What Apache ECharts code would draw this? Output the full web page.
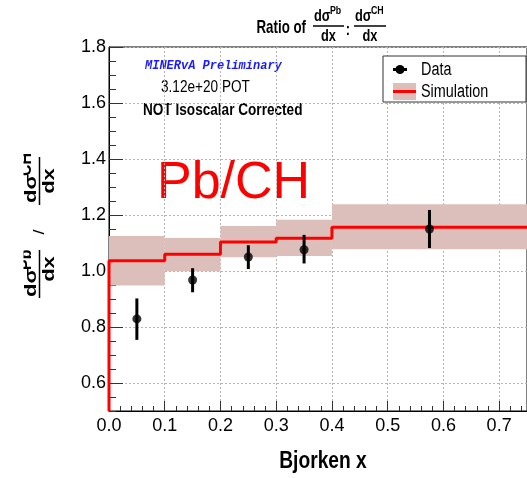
<!DOCTYPE html>
<html><head><meta charset="utf-8">
<script src="https://cdn.jsdelivr.net/npm/echarts@6/dist/echarts.min.js"></script>
<style>html,body{margin:0;padding:0;background:#fff}#c{width:527px;height:478px}</style>
</head><body><div id="c"></div>
<script>
// Bin edges and simulation (Pb/CH ratio) per Bjorken-x bin
const binEdges = [0.0, 0.1, 0.2, 0.3, 0.4, 0.75];
const simValues = [1.037, 1.060, 1.104, 1.117, 1.156];
const simLow    = [0.948, 0.999, 1.049, 1.054, 1.078];
const simHigh   = [1.125, 1.118, 1.161, 1.183, 1.238];
// Data points
const dataX     = [0.05, 0.15, 0.25, 0.35, 0.575];
const dataY     = [0.829, 0.968, 1.050, 1.076, 1.150];
const dataLow   = [0.754, 0.924, 1.007, 1.027, 1.082];
const dataHigh  = [0.902, 1.010, 1.092, 1.129, 1.218];
// Tick labels
const xTicks = [0.0, 0.1, 0.2, 0.3, 0.4, 0.5, 0.6, 0.7];
const yTicks = [0.6, 0.8, 1.0, 1.2, 1.4, 1.6, 1.8];

const SANS = "'Liberation Sans',Arial,Helvetica,sans-serif";
const SQ = 0.8; // horizontal squeeze of the ROOT-style fonts

const bandData = simValues.map((v, i) => [binEdges[i], binEdges[i + 1], simLow[i], simHigh[i]]);
const stepLine = [[binEdges[0], 0.5]];
simValues.forEach((v, i) => { stepLine.push([binEdges[i], v]); stepLine.push([binEdges[i + 1], v]); });
const errData = dataX.map((x, i) => [x, dataLow[i], dataHigh[i]]);
const ptData = dataX.map((x, i) => [x, dataY[i]]);

const chart = echarts.init(document.getElementById('c'), null, {renderer: 'canvas'});

function txt(x, y, s, font, extra, el) {
  return Object.assign({type: 'text', x: x, y: y, scaleX: SQ,
    style: Object.assign({text: s, font: font, fill: '#000', textAlign: 'left', textVerticalAlign: 'middle'}, extra || {})}, el || {});
}
function rtxt(x, y, s, font, extra, sy) { // text inside the rotated y-title group
  return {type: 'text', x: x, y: y, scaleY: sy || 0.78,
    style: Object.assign({text: s, font: font, fill: '#000', textAlign: 'left', textVerticalAlign: 'middle'}, extra || {})};
}

chart.setOption({
  animation: false,
  grid: {left: 109, right: -11, top: 47, bottom: 67, show: true, borderColor: '#000', borderWidth: 1, backgroundColor: 'transparent'},
  xAxis: [{
    type: 'value', min: 0, max: 0.75, interval: 0.1, position: 'bottom',
    axisLine: {show: true, onZero: false, lineStyle: {color: '#000', width: 1}},
    axisTick: {show: true, inside: true, length: 10, customValues: xTicks, lineStyle: {color: '#333'}},
    axisLabel: {customValues: xTicks, formatter: v => v.toFixed(1), fontFamily: SANS, fontSize: 18, color: '#000', margin: 6},
    splitLine: {show: true, lineStyle: {type: [2, 2], color: '#b5b5b5', width: 1}}
  }, {
    type: 'value', min: 0, max: 0.75, interval: 0.02, position: 'bottom',
    axisLine: {show: false}, axisTick: {show: true, inside: true, length: 5, lineStyle: {color: '#333'}},
    axisLabel: {show: false}, splitLine: {show: false}
  }],
  yAxis: [{
    type: 'value', min: 0.5, max: 1.8, interval: 0.1, position: 'left',
    axisLine: {show: true, onZero: false, lineStyle: {color: '#000', width: 1}},
    axisTick: {show: true, inside: true, length: 14, customValues: yTicks, lineStyle: {color: '#333'}},
    axisLabel: {customValues: yTicks, formatter: v => v.toFixed(1), fontFamily: SANS, fontSize: 18, color: '#000', margin: 3},
    splitLine: {show: true, lineStyle: {type: [2, 2], color: '#b5b5b5', width: 1}}
  }, {
    type: 'value', min: 0.5, max: 1.8, interval: 0.05, position: 'left',
    axisLine: {show: false}, axisTick: {show: true, inside: true, length: 7, lineStyle: {color: '#333'}},
    axisLabel: {show: false}, splitLine: {show: false}
  }],
  series: [{
    type: 'custom', xAxisIndex: 0, yAxisIndex: 0, data: bandData, z: 1,
    renderItem: (params, api) => {
      const p0 = api.coord([api.value(0), api.value(3)]);
      const p1 = api.coord([api.value(1), api.value(2)]);
      return {type: 'rect', shape: {x: p0[0], y: p0[1], width: p1[0] - p0[0], height: p1[1] - p0[1]}, style: {fill: '#dcbfba'}};
    }
  }, {
    type: 'line', xAxisIndex: 0, yAxisIndex: 0, data: stepLine, symbol: 'none', z: 3,
    lineStyle: {color: '#ff0000', width: 3}
  }, {
    type: 'custom', xAxisIndex: 0, yAxisIndex: 0, data: errData, z: 4,
    renderItem: (params, api) => {
      const a = api.coord([api.value(0), api.value(1)]);
      const b = api.coord([api.value(0), api.value(2)]);
      return {type: 'line', shape: {x1: a[0], y1: a[1], x2: b[0], y2: b[1]}, style: {stroke: '#000', lineWidth: 3}};
    }
  }, {
    type: 'scatter', xAxisIndex: 0, yAxisIndex: 0, data: ptData, symbol: 'circle', symbolSize: 9, z: 5,
    itemStyle: {color: '#000'}
  }],
  graphic: [
    // title
    txt(306, 28, 'Ratio of', "bold 19px " + SANS, {textAlign: 'right'}, {scaleX: 0.7}),
    txt(314, 17, 'dσ', "bold 16px " + SANS),
    txt(330, 11, 'Pb', "bold 11px " + SANS),
    {type: 'line', shape: {x1: 313, y1: 26, x2: 344, y2: 26}, style: {stroke: '#000', lineWidth: 1.5}},
    txt(328.5, 37, 'dx', "bold 16px " + SANS, {textAlign: 'center'}),
    txt(348, 31, ':', "bold 16px " + SANS, {textAlign: 'center'}),
    txt(355, 17, 'dσ', "bold 16px " + SANS),
    txt(371, 11, 'CH', "bold 11px " + SANS),
    {type: 'line', shape: {x1: 354, y1: 26, x2: 386, y2: 26}, style: {stroke: '#000', lineWidth: 1.5}},
    txt(370, 37, 'dx', "bold 16px " + SANS, {textAlign: 'center'}),
    // y-axis title (rotated)
    {type: 'group', x: 0, y: 300, rotation: Math.PI / 2, children: [
      rtxt(3, 31, 'dσ', "bold 22px " + SANS),
      rtxt(30, 27, 'Pb', "bold 16px " + SANS, null, 1),
      {type: 'line', shape: {x1: 2, y1: 39.5, x2: 50, y2: 39.5}, style: {stroke: '#000', lineWidth: 1.5}},
      rtxt(31, 49, 'dx', "bold 22px " + SANS, {textAlign: 'center'}),
      rtxt(68, 40, '/', "18px " + SANS, {textAlign: 'center'}),
      rtxt(97, 31, 'dσ', "bold 22px " + SANS),
      rtxt(124, 27, 'CH', "bold 16px " + SANS, null, 1),
      {type: 'line', shape: {x1: 95, y1: 39.5, x2: 143, y2: 39.5}, style: {stroke: '#000', lineWidth: 1.5}},
      rtxt(119, 49, 'dx', "bold 22px " + SANS, {textAlign: 'center'})
    ]},
    // the ROOT pad clips the superscripts at its left edge
    {type: 'rect', shape: {x: 0, y: 140, width: 23.5, height: 170}, style: {fill: '#fff'}, z: 20},
    // x-axis title
    txt(323, 461, 'Bjorken x', "bold 24px " + SANS, {textAlign: 'center'}),
    // annotations
    {type: 'text', x: 145, y: 66, style: {text: 'MINERvA Preliminary', font: "italic bold 12px 'Liberation Mono','DejaVu Sans Mono',monospace", fill: '#1a1aff', textVerticalAlign: 'middle'}},
    txt(161, 87, '3.12e+20 POT', "17px " + SANS),
    txt(143, 110, 'NOT Isoscalar Corrected', "bold 17px " + SANS),
    {type: 'text', x: 157, y: 184, style: {text: 'Pb/CH', font: "52px " + SANS, fill: '#ff0000', textVerticalAlign: 'middle'}},
    // legend
    {type: 'rect', shape: {x: 383, y: 56, width: 143, height: 46}, style: {fill: '#fff', stroke: '#333', lineWidth: 1}, z: 10},
    {type: 'line', shape: {x1: 393, y1: 69.5, x2: 407, y2: 69.5}, style: {stroke: '#000', lineWidth: 3}, z: 11},
    {type: 'circle', shape: {cx: 400, cy: 69.5, r: 4.5}, style: {fill: '#000'}, z: 11},
    {type: 'rect', shape: {x: 393, y: 83, width: 23, height: 17}, style: {fill: '#dcbfba'}, z: 11},
    {type: 'line', shape: {x1: 393, y1: 91.5, x2: 416, y2: 91.5}, style: {stroke: '#ff0000', lineWidth: 3}, z: 11},
    txt(421, 70, 'Data', "18px " + SANS, null, {z: 11}),
    txt(421, 92, 'Simulation', "18px " + SANS, null, {z: 11})
  ]
});
</script></body></html>
